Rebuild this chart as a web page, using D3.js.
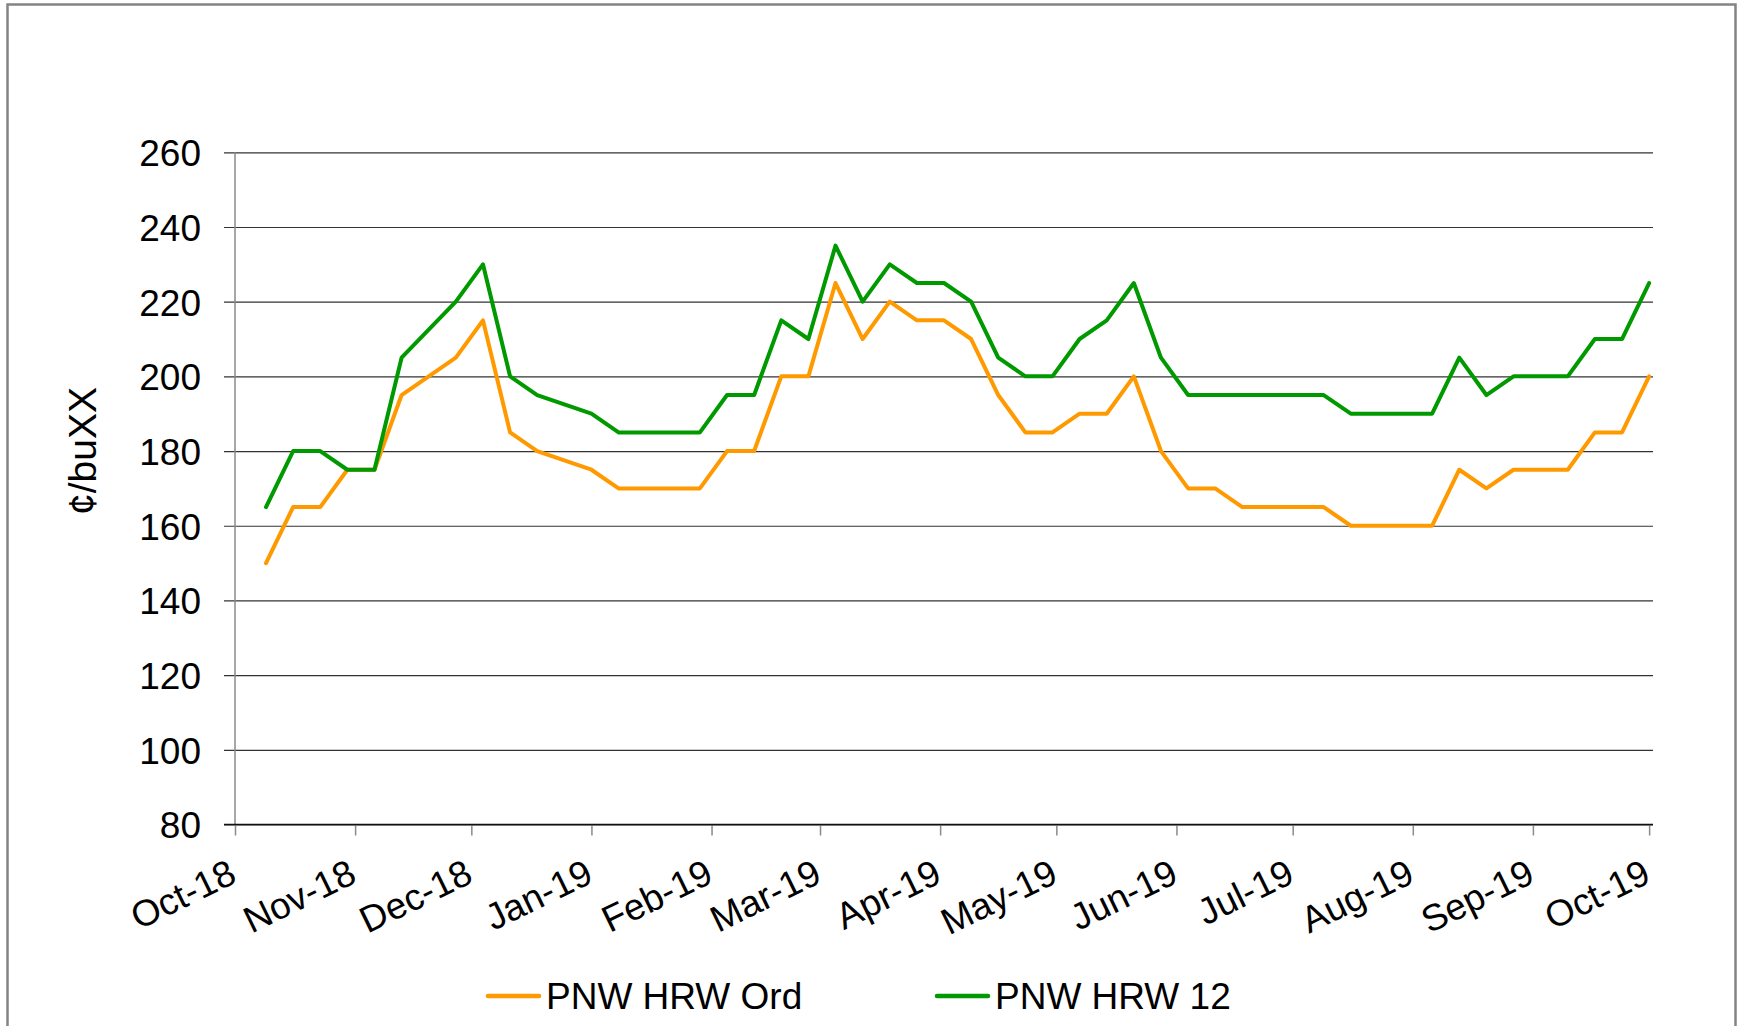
<!DOCTYPE html>
<html>
<head>
<meta charset="utf-8">
<script src="https://cdn.jsdelivr.net/npm/d3@7.9.0/dist/d3.min.js"></script>
<style>
  html, body { margin: 0; padding: 0; background: #fff; }
  svg { display: block; font-family: "Liberation Sans", Arial, sans-serif; }
</style>
</head>
<body>
<svg id="chart" width="1743" height="1026"></svg>
<script>
// weekly quotes, cents per bushel
const weeks = [
  "2018-10-09", "2018-10-16", "2018-10-23", "2018-10-30", "2018-11-06", "2018-11-13",
  "2018-11-20", "2018-11-27", "2018-12-04", "2018-12-11", "2018-12-18", "2018-12-25",
  "2019-01-01", "2019-01-08", "2019-01-15", "2019-01-22", "2019-01-29", "2019-02-05",
  "2019-02-12", "2019-02-19", "2019-02-26", "2019-03-05", "2019-03-12", "2019-03-19",
  "2019-03-26", "2019-04-02", "2019-04-09", "2019-04-16", "2019-04-23", "2019-04-30",
  "2019-05-07", "2019-05-14", "2019-05-21", "2019-05-28", "2019-06-04", "2019-06-11",
  "2019-06-18", "2019-06-25", "2019-07-02", "2019-07-09", "2019-07-16", "2019-07-23",
  "2019-07-30", "2019-08-06", "2019-08-13", "2019-08-20", "2019-08-27", "2019-09-03",
  "2019-09-10", "2019-09-17", "2019-09-24", "2019-10-01"
];

const hrwOrd = [
  150, 165, 165, 175, 175, 195, 200, 205, 215, 185, 180, 177.5,
  175, 170, 170, 170, 170, 180, 180, 200, 200, 225, 210, 220,
  215, 215, 210, 195, 185, 185, 190, 190, 200, 180, 170, 170,
  165, 165, 165, 165, 160, 160, 160, 160, 175, 170, 175, 175,
  175, 185, 185, 200
];

const hrw12 = [
  165, 180, 180, 175, 175, 205, 212.5, 220, 230, 200, 195, 192.5,
  190, 185, 185, 185, 185, 195, 195, 215, 210, 235, 220, 230,
  225, 225, 220, 205, 200, 200, 210, 215, 225, 205, 195, 195,
  195, 195, 195, 195, 190, 190, 190, 190, 205, 195, 200, 200,
  200, 210, 210, 225
];

const monthStarts = [
  "2018-10-01", "2018-11-01", "2018-12-01", "2019-01-01", "2019-02-01", "2019-03-01", "2019-04-01",
  "2019-05-01", "2019-06-01", "2019-07-01", "2019-08-01", "2019-09-01", "2019-10-01"
];
const monthLabels = [
  "Oct-18", "Nov-18", "Dec-18", "Jan-19", "Feb-19", "Mar-19", "Apr-19",
  "May-19", "Jun-19", "Jul-19", "Aug-19", "Sep-19", "Oct-19"
];
const yTicks = [80, 100, 120, 140, 160, 180, 200, 220, 240, 260];

const seriesNames = ["PNW HRW Ord", "PNW HRW 12"];
const seriesColors = ["#ff9900", "#009900"];

const parse = d3.timeParse("%Y-%m-%d");
const dates = weeks.map(parse);
const series = [hrwOrd, hrw12].map((vals, i) => ({
  name: seriesNames[i],
  color: seriesColors[i],
  values: vals.map((v, j) => ({ date: dates[j], value: v }))
}));

const svg = d3.select("#chart");

// outer chart border
svg.append("rect")
  .attr("x", 7.5).attr("y", 4.5)
  .attr("width", 1728).attr("height", 1040)
  .attr("fill", "none")
  .attr("stroke", "#848484")
  .attr("stroke-width", 2.5);

const plotLeft = 235, plotRight = 1653, plotTop = 152.3, plotBottom = 824.5;

const x = d3.scaleTime()
  .domain([parse("2018-10-01"), parse("2019-10-02")])
  .range([plotLeft, plotRight]);

const y = d3.scaleLinear()
  .domain([80, 260])
  .range([plotBottom, plotTop]);

// gridlines + y labels
const yAxis = d3.axisLeft(y)
  .tickValues(yTicks)
  .tickSizeInner(-(plotRight - (plotLeft - 11)))
  .tickSizeOuter(0)
  .tickPadding(23);

const gy = svg.append("g")
  .attr("transform", `translate(${plotLeft - 11},0)`)
  .call(yAxis);
gy.select(".domain").remove();
gy.selectAll(".tick line")
  .attr("stroke", "#333")
  .attr("stroke-width", 1.2);
gy.selectAll(".tick text")
  .attr("font-size", 37)
  .attr("fill", "#000")
  .attr("dy", "0.36em");

// vertical axis line
svg.append("line")
  .attr("x1", plotLeft).attr("x2", plotLeft)
  .attr("y1", plotTop).attr("y2", plotBottom)
  .attr("stroke", "#8a8a8a")
  .attr("stroke-width", 1.5);

// x axis ticks + labels
const xAxis = d3.axisBottom(x)
  .tickValues(monthStarts.map(parse))
  .tickFormat((d, i) => monthLabels[i])
  .tickSizeInner(11)
  .tickSizeOuter(0);

const gx = svg.append("g")
  .attr("transform", `translate(0,${plotBottom})`)
  .call(xAxis);
gx.select(".domain").remove();
gx.selectAll(".tick line")
  .attr("stroke", "#8a8a8a")
  .attr("stroke-width", 1.5);
gx.selectAll(".tick text")
  .attr("font-size", 37)
  .attr("fill", "#000")
  .attr("text-anchor", "end")
  .attr("x", 0).attr("y", 0).attr("dy", null)
  .attr("transform", "translate(3,57) rotate(-26)");

// bottom axis line at 80
svg.append("line")
  .attr("x1", plotLeft - 11).attr("x2", plotRight)
  .attr("y1", plotBottom).attr("y2", plotBottom)
  .attr("stroke", "#111")
  .attr("stroke-width", 1.5);

// y title
svg.append("text")
  .attr("transform", "translate(96,451) rotate(-90)")
  .attr("text-anchor", "middle")
  .attr("font-size", 39)
  .attr("fill", "#000")
  .text("¢/buXX");

// series lines
const line = d3.line()
  .x(d => x(d.date))
  .y(d => y(d.value));

svg.append("g")
  .selectAll("path")
  .data(series)
  .join("path")
  .attr("d", d => line(d.values))
  .attr("fill", "none")
  .attr("stroke", d => d.color)
  .attr("stroke-width", 4)
  .attr("stroke-linejoin", "round")
  .attr("stroke-linecap", "round");

// legend
const legendX = [488, 937];
const legend = svg.append("g")
  .selectAll("g")
  .data(series)
  .join("g")
  .attr("transform", (d, i) => `translate(${legendX[i]},996)`);

legend.append("line")
  .attr("x1", 0).attr("x2", 51)
  .attr("y1", 0).attr("y2", 0)
  .attr("stroke", d => d.color)
  .attr("stroke-width", 4.5)
  .attr("stroke-linecap", "round");

legend.append("text")
  .attr("x", 58)
  .attr("y", 13)
  .attr("font-size", 37)
  .attr("fill", "#000")
  .text(d => d.name);
</script>
</body>
</html>
